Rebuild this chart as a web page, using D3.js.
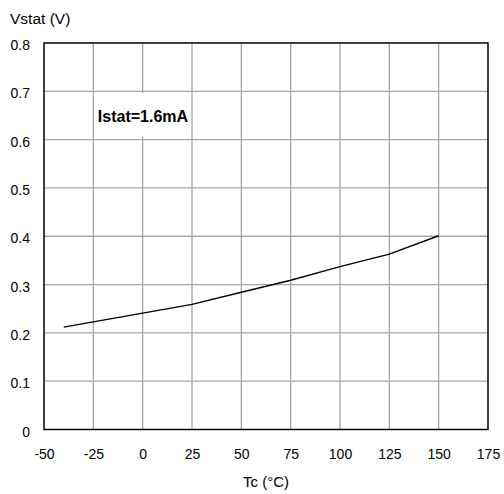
<!DOCTYPE html>
<html>
<head>
<meta charset="utf-8">
<script src="https://cdn.jsdelivr.net/npm/d3@7"></script>
<style>
  body { margin: 0; background: #fff; }
  text { font-family: "Liberation Sans", Arial, sans-serif; fill: #000; }
</style>
</head>
<body>
<div id="chart"></div>
<script>
// values
var tempC = [-40, 0, 25, 50, 75, 100, 125, 150]
var vstat = [0.212, 0.241, 0.259, 0.284, 0.309, 0.337, 0.363, 0.401]

var xTicks = [-50, -25, 0, 25, 50, 75, 100, 125, 150, 175]
var yTicks = [0, 0.1, 0.2, 0.3, 0.4, 0.5, 0.6, 0.7, 0.8]
var yTickLabels = ["0", "0.1", "0.2", "0.3", "0.4", "0.5", "0.6", "0.7", "0.8"]

var yTitle = "Vstat (V)"
var xTitle = "Tc (°C)"
var note = "Istat=1.6mA"

var chartWidth = 504
var chartHeight = 494
var margin = {top: 43, right: 16, bottom: 64.5, left: 44}
var width = chartWidth - margin.left - margin.right
var height = chartHeight - margin.top - margin.bottom

var x = d3.scaleLinear().domain([-50, 175]).range([0, width])
var y = d3.scaleLinear().domain([0, 0.8]).range([height, 0])

var data = []
for (var i = 0; i < tempC.length; i++) {
  data.push([tempC[i], vstat[i]])
}

var chart = d3.select("#chart")
  .append("svg")
  .attr("width", chartWidth)
  .attr("height", chartHeight)

var main = chart.append("g")
  .attr("transform", "translate(" + margin.left + "," + margin.top + ")")

// grid
main.append("g")
  .selectAll("line")
  .data(xTicks.slice(1, -1))
  .enter().append("line")
  .attr("x1", function (d) { return x(d) })
  .attr("x2", function (d) { return x(d) })
  .attr("y1", 0)
  .attr("y2", height)
  .attr("stroke", "#a6a6a6")
  .attr("stroke-width", 1.3)

main.append("g")
  .selectAll("line")
  .data(yTicks.slice(1, -1))
  .enter().append("line")
  .attr("x1", 0)
  .attr("x2", width)
  .attr("y1", function (d) { return y(d) })
  .attr("y2", function (d) { return y(d) })
  .attr("stroke", "#a6a6a6")
  .attr("stroke-width", 1.3)

// frame
main.append("rect")
  .attr("x", 0)
  .attr("y", 0)
  .attr("width", width)
  .attr("height", height)
  .attr("fill", "none")
  .attr("stroke", "#000")
  .attr("stroke-width", 1.5)

// axis labels, using d3 axes but hiding the domain and ticks
// plain hyphen for negatives, like the original
var xAxis = d3.axisBottom(x).tickValues(xTicks)
  .tickFormat(function (d) { return String(d) })
  .tickSize(0).tickPadding(0)
var gx = main.append("g")
  .attr("transform", "translate(0," + height + ")")
  .call(xAxis)
gx.select(".domain").remove()
gx.selectAll("text")
  .attr("y", 29.5)
  .attr("dy", null)
  .style("font-size", "14px")
  .attr("font-family", null)

var yAxis = d3.axisLeft(y).tickValues(yTicks)
  .tickFormat(function (d, i) { return yTickLabels[i] })
  .tickSize(0).tickPadding(0)
var gy = main.append("g").call(yAxis)
gy.select(".domain").remove()
gy.selectAll("text")
  .attr("x", -14)
  .attr("dy", "6.5")
  .style("font-size", "14px")
  .attr("font-family", null)

// curve
var line = d3.line()
  .x(function (d) { return x(d[0]) })
  .y(function (d) { return y(d[1]) })

main.append("path")
  .datum(data)
  .attr("d", line)
  .attr("fill", "none")
  .attr("stroke", "#000")
  .attr("stroke-width", 1.4)

// annotation with white box
main.append("rect")
  .attr("x", x(-25) + 1.5)
  .attr("y", y(0.7) + 1.5)
  .attr("width", x(25) - x(-25) - 3)
  .attr("height", y(0.6) - y(0.7) - 4.5)
  .attr("fill", "#fff")

main.append("text")
  .attr("x", x(-25) + 4.5)
  .attr("y", y(0.7) + 30.5)
  .style("font-size", "16px")
  .style("font-weight", "bold")
  .text(note)

// titles
chart.append("text")
  .attr("x", 10)
  .attr("y", 24)
  .style("font-size", "15.5px")
  .text(yTitle)

chart.append("text")
  .attr("x", margin.left + x(62.5))
  .attr("y", 487)
  .attr("text-anchor", "middle")
  .style("font-size", "15px")
  .text(xTitle)
</script>
</body>
</html>
